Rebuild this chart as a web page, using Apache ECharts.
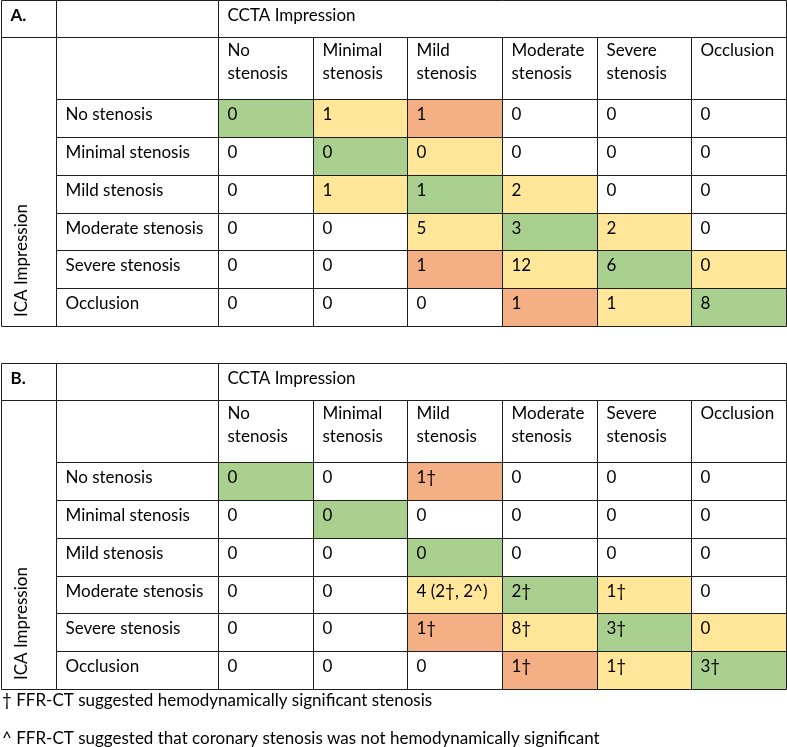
<!DOCTYPE html>
<html>
<head>
<meta charset="utf-8">
<script src="https://cdn.jsdelivr.net/npm/echarts@6/dist/echarts.min.js"></script>
<style>html,body{margin:0;padding:0;background:#fff}#chart{width:787px;height:747px}</style>
</head>
<body>
<div id="chart"></div>
<script>
// ---------------- DATA ----------------
const cctaCategories = ['No stenosis', 'Minimal stenosis', 'Mild stenosis', 'Moderate stenosis', 'Severe stenosis', 'Occlusion'];
const icaCategories = ['No stenosis', 'Minimal stenosis', 'Mild stenosis', 'Moderate stenosis', 'Severe stenosis', 'Occlusion'];
const colHeaderTitle = 'CCTA Impression';
const rowHeaderTitle = 'ICA Impression';
const tableLabels = ['A.', 'B.'];

// rows = ICA impression, columns = CCTA impression
const tableAValues = [
  [0, 1, 1, 0, 0, 0],
  [0, 0, 0, 0, 0, 0],
  [0, 1, 1, 2, 0, 0],
  [0, 0, 5, 3, 2, 0],
  [0, 0, 1, 12, 6, 0],
  [0, 0, 0, 1, 1, 8]
];
// agreement class of each cell: agree / minor / major / '' (none)
const tableAAgreement = [
  ['agree', 'minor', 'major', '', '', ''],
  ['', 'agree', 'minor', '', '', ''],
  ['', 'minor', 'agree', 'minor', '', ''],
  ['', '', 'minor', 'agree', 'minor', ''],
  ['', '', 'major', 'minor', 'agree', 'minor'],
  ['', '', '', 'major', 'minor', 'agree']
];
const tableBValues = [
  ['0', '0', '1†', '0', '0', '0'],
  ['0', '0', '0', '0', '0', '0'],
  ['0', '0', '0', '0', '0', '0'],
  ['0', '0', '4 (2†, 2^)', '2†', '1†', '0'],
  ['0', '0', '1†', '8†', '3†', '0'],
  ['0', '0', '0', '1†', '1†', '3†']
];
const tableBAgreement = [
  ['agree', '', 'major', '', '', ''],
  ['', 'agree', '', '', '', ''],
  ['', '', 'agree', '', '', ''],
  ['', '', 'minor', 'agree', 'minor', ''],
  ['', '', 'major', 'minor', 'agree', 'minor'],
  ['', '', '', 'major', 'minor', 'agree']
];
const footnotes = [
  '† FFR-CT suggested hemodynamically significant stenosis',
  '^ FFR-CT suggested that coronary stenosis was not hemodynamically significant'
];

// ---------------- LAYOUT / STYLE ----------------
const FONT = 'Lato';
const FS = 17;
const LH = 23;
const TEXT_COLOR = '#000';
const LINE_COLOR = '#1e1e1e';
const FILL = { agree: '#A9D08E', minor: '#FFE699', major: '#F4B084', '': '#FFFFFF' };
const X0 = 1, X1 = 56, X2 = 218, X3 = 786;
const H_TOP = 37, H_HEAD = 62, H_BODY = 227;
const TABLE_TOPS = [0, 363];
const PAD_X = 9.5, PAD_Y = 4, PAD_Y_HEAD = 2;

const grids = [], xAxes = [], yAxes = [], series = [];

function snap(v) { return Math.floor(v + 0.5 + 1e-4) + 0.5; }

function makeRender(cells) {
  return function (params, api) {
    const cell = cells[params.dataIndex];
    const c = api.coord([api.value(0), api.value(1)]);
    const s = api.size([1, 1]);
    const l = snap(c[0] - s[0] / 2), r = snap(c[0] + s[0] / 2);
    const t = snap(c[1] - s[1] / 2), b = snap(c[1] + s[1] / 2);
    const el = {
      type: 'rect',
      shape: { x: l, y: t, width: r - l, height: b - t },
      style: { fill: cell.fill, stroke: LINE_COLOR, lineWidth: 1 }
    };
    if (cell.text) {
      const py = cell.fromBottom != null ? (b - t) - cell.fromBottom : cell.py;
      el.textContent = {
        style: {
          text: cell.text, fontFamily: FONT, fontSize: FS, lineHeight: LH,
          fontWeight: cell.bold ? 'bold' : 'normal', fill: TEXT_COLOR
        }
      };
      el.textConfig = { position: [PAD_X, py], rotation: cell.rot || 0 };
    }
    return el;
  };
}

function addBlock(left, top, width, height, nCols, nRows, cells) {
  const gi = grids.length;
  grids.push({ left: left, top: top, width: width, height: height, show: false });
  xAxes.push({ type: 'category', gridIndex: gi, data: Array.from({ length: nCols }, (_, i) => 'c' + i), show: false });
  yAxes.push({ type: 'category', gridIndex: gi, data: Array.from({ length: nRows }, (_, i) => 'r' + i), show: false, inverse: true });
  series.push({
    type: 'custom', coordinateSystem: 'cartesian2d', xAxisIndex: gi, yAxisIndex: gi,
    data: cells.map(cl => [cl.x, cl.y]), renderItem: makeRender(cells), silent: true, animation: false
  });
}

function wrapHeader(name) {
  return name.replace(' ', '\n');
}

function buildTable(ti, values, agreement) {
  const top = TABLE_TOPS[ti];
  // top row
  addBlock(X0, top, X1 - X0, H_TOP, 1, 1, [{ x: 0, y: 0, fill: '#fff', text: tableLabels[ti], bold: true, py: PAD_Y }]);
  addBlock(X1, top, X2 - X1, H_TOP, 1, 1, [{ x: 0, y: 0, fill: '#fff' }]);
  addBlock(X2, top, X3 - X2, H_TOP, 1, 1, [{ x: 0, y: 0, fill: '#fff', text: colHeaderTitle, py: PAD_Y }]);
  // merged ICA column
  addBlock(X0, top + H_TOP, X1 - X0, H_HEAD + H_BODY, 1, 1,
    [{ x: 0, y: 0, fill: '#fff', text: rowHeaderTitle, rot: Math.PI / 2, fromBottom: 9 }]);
  // header row
  addBlock(X1, top + H_TOP, X2 - X1, H_HEAD, 1, 1, [{ x: 0, y: 0, fill: '#fff' }]);
  addBlock(X2, top + H_TOP, X3 - X2, H_HEAD, cctaCategories.length, 1,
    cctaCategories.map((n, i) => ({ x: i, y: 0, fill: '#fff', text: wrapHeader(n), py: PAD_Y_HEAD })));
  // row labels
  addBlock(X1, top + H_TOP + H_HEAD, X2 - X1, H_BODY, 1, icaCategories.length,
    icaCategories.map((n, j) => ({ x: 0, y: j, fill: '#fff', text: n, py: PAD_Y })));
  // data cells
  const cells = [];
  values.forEach((row, j) => row.forEach((v, i) => {
    cells.push({ x: i, y: j, fill: FILL[agreement[j][i]], text: String(v), py: PAD_Y });
  }));
  addBlock(X2, top + H_TOP + H_HEAD, X3 - X2, H_BODY, cctaCategories.length, icaCategories.length, cells);
}

buildTable(0, tableAValues, tableAAgreement);
buildTable(1, tableBValues, tableBAgreement);

const titles = footnotes.map((t, i) => ({
  text: t, left: 2, top: 689 + i * 38, padding: 0,
  textStyle: { fontFamily: FONT, fontSize: FS, fontWeight: 'normal', color: TEXT_COLOR, lineHeight: LH }
}));

const chart = echarts.init(document.getElementById('chart'), null, { renderer: 'canvas' });
chart.setOption({
  animation: false,
  backgroundColor: '#fff',
  title: titles,
  grid: grids,
  xAxis: xAxes,
  yAxis: yAxes,
  series: series
});
</script>
</body>
</html>
